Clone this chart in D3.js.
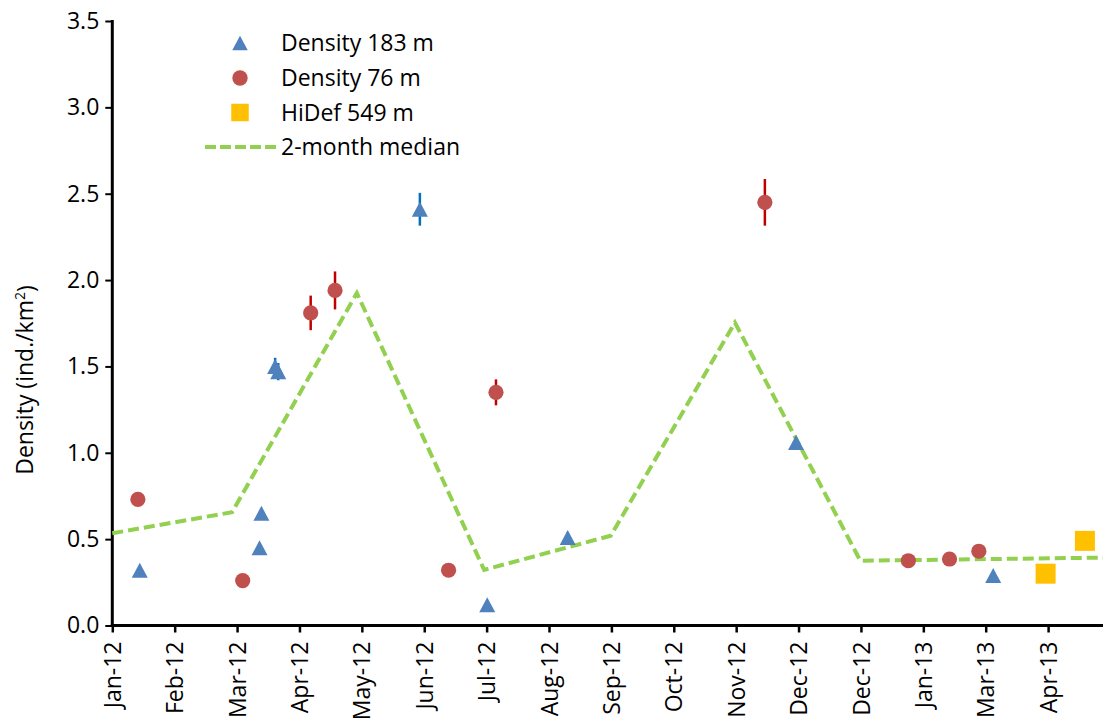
<!DOCTYPE html>
<html>
<head>
<meta charset="utf-8">
<script src="https://cdn.jsdelivr.net/npm/d3@7"></script>
<style>
  html, body { margin: 0; padding: 0; background: #fff; }
  svg { display: block; }
  text { font-family: "Open Sans", "DejaVu Sans", sans-serif; fill: #000; }
</style>
</head>
<body>
<script>
// ---- Data ----
const tickLabels = ["Jan-12","Feb-12","Mar-12","Apr-12","May-12","Jun-12","Jul-12","Aug-12","Sep-12","Oct-12","Nov-12","Dec-12","Dec-12","Jan-13","Mar-13","Apr-13"];
const yTicks = [0, 0.5, 1.0, 1.5, 2.0, 2.5, 3.0, 3.5];

// x positions in axis-tick units (0 = Jan-12 tick)
const d183X   = [0.44, 2.36, 2.39, 2.61, 2.66, 4.93, 6.01, 7.30, 10.96, 14.12];
const d183Y   = [0.32, 0.45, 0.65, 1.50, 1.47, 2.41, 0.12, 0.51, 1.06, 0.29];
const d183Err = [0.01, 0.01, 0.02, 0.05, 0.05, 0.095, 0.01, 0.03, 0.03, 0.01];

const d76X   = [0.41, 2.09, 3.18, 3.57, 5.39, 6.15, 10.46, 12.76, 13.42, 13.89];
const d76Y   = [0.73, 0.26, 1.81, 1.94, 0.32, 1.35, 2.45, 0.375, 0.385, 0.43];
const d76Err = [0, 0, 0.10, 0.11, 0, 0.075, 0.135, 0, 0, 0];

const hidefX = [14.96, 15.59];
const hidefY = [0.30, 0.49];

const medianX = [0, 1.92, 3.92, 5.96, 7.99, 9.98, 11.99, 15.88];
const medianY = [0.534, 0.656, 1.925, 0.322, 0.52, 1.754, 0.375, 0.393];

const seriesNames = ["Density 183 m", "Density 76 m", "HiDef 549 m", "2-month median"];

// ---- Setup ----
const W = 1103, H = 722;
const svg = d3.select("body").append("svg").attr("width", W).attr("height", H);
svg.append("rect").attr("width", W).attr("height", H).attr("fill", "#fff");

const x = d3.scaleLinear().domain([0, 15.88]).range([112.3, 1103]);
const y = d3.scaleLinear().domain([0, 3.5]).range([625.5, 21]);

const cTri = "#4F81BD", cCirc = "#C0504D", cSq = "#FFC000", cMed = "#92D050";
const cTriErr = "#0070C0", cCircErr = "#C00000";

// custom triangle symbol (bbox-centred)
const triType = { draw(ctx, size) { const w = Math.sqrt(size); const h = w * 0.94;
  ctx.moveTo(0, -h/2); ctx.lineTo(w/2, h/2); ctx.lineTo(-w/2, h/2); ctx.closePath(); } };
const sqType = { draw(ctx, size) { const s = Math.sqrt(size)/2; ctx.rect(-s, -s, 2*s, 2*s); } };

const FONT = "Open Sans";
const fontSize = 23;

// ---- Y axis ----
const yAxis = d3.axisLeft(y).tickValues(yTicks).tickSize(7).tickPadding(6).tickFormat(d3.format(".1f"));
const gy = svg.append("g").attr("transform", "translate(112.3,0)").call(yAxis);
gy.select(".domain").remove();
gy.selectAll(".tick line").attr("stroke", "#000").attr("stroke-width", 2);
gy.selectAll(".tick text").attr("font-size", fontSize).attr("font-family", FONT).attr("fill", "#000");
gy.append("line").attr("x1", 0).attr("x2", 0).attr("y1", y(3.5) - 1).attr("y2", y(0) + 1.5)
  .attr("stroke", "#000").attr("stroke-width", 3);

// ---- X axis ----
const xAxis = d3.axisBottom(x).tickValues(d3.range(tickLabels.length)).tickSize(7)
  .tickFormat((d, i) => tickLabels[i]);
const gx = svg.append("g").attr("transform", `translate(0,${y(0)})`).call(xAxis);
gx.select(".domain").remove();
gx.selectAll(".tick line").attr("stroke", "#000").attr("stroke-width", 2.5);
gx.selectAll(".tick text")
  .attr("font-size", fontSize).attr("font-family", FONT).attr("fill", "#000")
  .attr("text-anchor", "end")
  .attr("transform", "translate(0,16) rotate(-90)")
  .attr("x", 0).attr("y", 0).attr("dy", "0.35em");
gx.append("line").attr("x1", x(0) - 1.5).attr("x2", W).attr("y1", 0).attr("y2", 0)
  .attr("stroke", "#000").attr("stroke-width", 3);

// ---- Y axis title ----
const yt = svg.append("text").attr("transform", "translate(33,380) rotate(-90)")
  .attr("text-anchor", "middle").attr("font-size", 23);
yt.append("tspan").text("Density (ind./km");
yt.append("tspan").attr("font-size", 14).attr("dy", "-0.6em").text("2");
yt.append("tspan").attr("dy", "0.4em").text(")");

// ---- Median line ----
const medData = medianX.map((v, i) => [v, medianY[i]]);
svg.append("path").datum(medData)
  .attr("d", d3.line().x(d => x(d[0])).y(d => y(d[1])))
  .attr("fill", "none").attr("stroke", cMed).attr("stroke-width", 4)
  .attr("stroke-dasharray", "11,5");

// ---- Error bars ----
const d183 = d183X.map((v, i) => ({x: v, y: d183Y[i], e: d183Err[i]}));
const d76 = d76X.map((v, i) => ({x: v, y: d76Y[i], e: d76Err[i]}));
const hidef = hidefX.map((v, i) => ({x: v, y: hidefY[i]}));

svg.append("g").selectAll("line").data(d183.filter(d => d.e > 0)).join("line")
  .attr("x1", d => x(d.x)).attr("x2", d => x(d.x))
  .attr("y1", d => y(d.y + d.e)).attr("y2", d => y(d.y - d.e))
  .attr("stroke", cTriErr).attr("stroke-width", 2.5);
svg.append("g").selectAll("line").data(d76.filter(d => d.e > 0)).join("line")
  .attr("x1", d => x(d.x)).attr("x2", d => x(d.x))
  .attr("y1", d => y(d.y + d.e)).attr("y2", d => y(d.y - d.e))
  .attr("stroke", cCircErr).attr("stroke-width", 2.5);

// ---- Markers ----
const triSym = d3.symbol().type(triType).size(16 * 16);
const circSym = d3.symbol().type(d3.symbolCircle).size(Math.PI * 7.6 * 7.6);
const sqSym = d3.symbol().type(sqType).size(20 * 20);

svg.append("g").selectAll("path").data(d183).join("path")
  .attr("transform", d => `translate(${x(d.x)},${y(d.y)})`)
  .attr("d", triSym).attr("fill", cTri);
svg.append("g").selectAll("path").data(d76).join("path")
  .attr("transform", d => `translate(${x(d.x)},${y(d.y)})`)
  .attr("d", circSym).attr("fill", cCirc);
svg.append("g").selectAll("path").data(hidef).join("path")
  .attr("transform", d => `translate(${x(d.x)},${y(d.y)})`)
  .attr("d", sqSym).attr("fill", cSq);

// ---- Legend ----
const leg = svg.append("g");
const rowY = [43, 78, 112.5, 147];
const legSyms = [
  d3.symbol().type(triType).size(15.5 * 15.5),
  d3.symbol().type(d3.symbolCircle).size(Math.PI * 7.7 * 7.7),
  d3.symbol().type(sqType).size(17.5 * 17.5)
];
const legCols = [cTri, cCirc, cSq];
legSyms.forEach((s, i) => {
  leg.append("path").attr("transform", `translate(240,${rowY[i]})`).attr("d", s).attr("fill", legCols[i]);
});
leg.append("line").attr("x1", 205).attr("x2", 276).attr("y1", rowY[3]).attr("y2", rowY[3])
  .attr("stroke", cMed).attr("stroke-width", 4).attr("stroke-dasharray", "11,4");
seriesNames.forEach((n, i) => {
  leg.append("text").attr("x", 281).attr("y", rowY[i]).attr("dy", "0.36em")
    .attr("font-size", fontSize).attr("font-family", FONT).text(n);
});
</script>
</body>
</html>
